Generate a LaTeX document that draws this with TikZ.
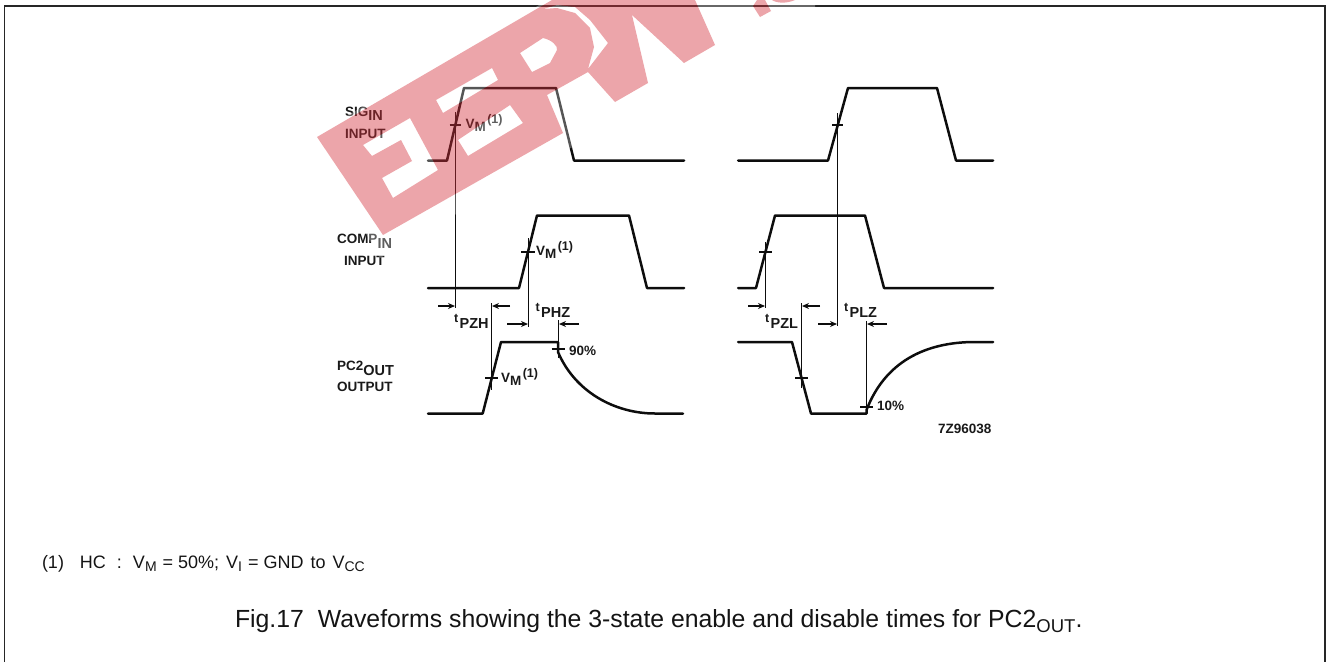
\documentclass[tikz,border=0pt]{standalone}
\usepackage{fontspec}
\setmainfont{Liberation Sans}
\usetikzlibrary{arrows.meta}
\definecolor{wmred}{RGB}{212,48,59}
\newcommand{\wmletters}{
  (317,137) -- (552,0) -- (695,0) -- (715,45) -- (684,63) -- (632,15) -- (648,83) -- (615,102) -- (588,72) -- (547,95) -- (563,133) -- (383,235) -- cycle
  (363,145) -- (410,118) -- (438,170) -- (393,198) -- (382,178) -- (412,161) -- (401,140) -- (372,156) -- cycle
  (436,100) -- (492,68) -- (498,80) -- (443,113) -- cycle
  (458,140) -- (510,105) -- (523,123) -- (468,156) -- cycle
  (520,53) -- (543,38) .. controls (552,40) and (558,46) .. (557,50) -- (550,63) -- (532,72) -- cycle
  (588,69) -- (594,47) -- (590,28) -- (575,13) -- (557,8) -- (543,9) -- (557,5) -- (575,7) -- (590,20) -- (608,43) -- cycle
}
\newcommand{\wmdot}{
  (753,6) -- (760,17) -- (771,11) -- (765,0) -- (757,0) -- cycle
  (772,0) .. controls (776,3) and (786,4) .. (795,0) -- cycle
}
\tikzset{
  x=1pt,y=-1pt,
  wave/.style={line width=2.5pt,line join=round,line cap=round,black!95},
  thin line/.style={line width=1.2pt,black!95},
  tick line/.style={line width=1.4pt,black!95},
  timing/.style={line width=1.3pt,black!95,-{Stealth[length=7pt,width=6pt]}},
  lab/.style={anchor=base west,inner sep=0pt,outer sep=0pt,font=\fontsize{13.5}{15}\selectfont\bfseries,text=black!90},
  foot/.style={anchor=base west,inner sep=0pt,outer sep=0pt,text=black!92},
  frameline/.style={line width=1.5pt,black!85}
}
\newcommand{\vmlab}{V\raisebox{-3.5pt}{M}\hspace{1.5pt}\raisebox{5pt}{\fontsize{12.5}{13}\selectfont (1)}}
\newcommand{\tlab}[1]{{\fontsize{12.5}{13}\selectfont t}\hspace{1.5pt}\raisebox{-6pt}{\fontsize{14.5}{15}\selectfont #1}}
\newcommand{\nsub}[1]{\raisebox{-3.5pt}{\fontsize{14}{15}\selectfont #1}}
\newcommand{\csub}[1]{\raisebox{-5pt}{\fontsize{18.5}{19}\selectfont #1}}
\begin{document}
\begin{tikzpicture}
\useasboundingbox (0,0) rectangle (1326,662);
% frame
\draw[frameline] (4.5,662) -- (4.5,6) -- (1325,6) -- (1325,662);
% left waveforms
\draw[wave] (428,160.5) -- (447,160.5) -- (464,88) -- (556,88) -- (574,160.5) -- (684,160.5);
\draw[wave] (428,288) -- (519,288) -- (537,215.5) -- (629,215.5) -- (647,288) -- (684,288);
\draw[wave] (428,413.5) -- (482.7,413.5) -- (501,342) -- (558,342) -- (558,352) .. controls (575,392) and (615,413.5) .. (655,413.5) -- (683,413.5);
% right waveforms
\draw[wave] (738,160.5) -- (828,160.5) -- (848,88) -- (937,88) -- (956,160.5) -- (993,160.5);
\draw[wave] (738,288) -- (756,288) -- (775,215.5) -- (865,215.5) -- (884,288) -- (993,288);
\draw[wave] (738,342) -- (792,342) -- (811,413.5) -- (866.5,413.5) -- (866.5,410) .. controls (885,362) and (925,342) .. (975,342) -- (993,342);
% vertical reference lines
\draw[thin line] (455.5,112) -- (455.5,308);
\draw[thin line] (528.5,238) -- (528.5,327);
\draw[thin line] (491.5,303) -- (491.5,390);
\draw[thin line] (558.5,320) -- (558.5,358);
\draw[thin line] (837.5,113) -- (837.5,326);
\draw[thin line] (765.5,242) -- (765.5,308);
\draw[thin line] (801.5,303) -- (801.5,388);
\draw[thin line] (866.5,321) -- (866.5,414);
% ticks
\draw[tick line] (449.5,125) -- (461,125);
\draw[tick line] (521,252) -- (535,252);
\draw[tick line] (485,378) -- (498,378);
\draw[tick line] (551.5,349) -- (565,349);
\draw[tick line] (832,125) -- (843,125);
\draw[tick line] (759,252) -- (772,252);
\draw[tick line] (795,378) -- (808,378);
\draw[tick line] (860,407) -- (873,407);
% timing arrows
\draw[timing] (438,306) -- (455,306);
\draw[timing] (510,306) -- (492,306);
\draw[timing] (507,324) -- (528,324);
\draw[timing] (579,324) -- (559,324);
\draw[timing] (748,306) -- (765,306);
\draw[timing] (820,306) -- (802,306);
\draw[timing] (818,324) -- (837,324);
\draw[timing] (887,324) -- (867,324);
% labels
\node[lab] (sig) at (345,116) {SIG\raisebox{-4.7pt}{\fontsize{14.5}{15}\selectfont IN}};
\node[lab] (siginput) at (345,138) {INPUT};
\node[lab] (comp) at (337,243) {COMP\raisebox{-5pt}{\fontsize{14.5}{15}\selectfont IN}};
\node[lab] (compinput) at (344,265) {INPUT};
\node[lab] (pc) at (337,370) {PC2\raisebox{-5pt}{\fontsize{14.5}{15}\selectfont OUT}};
\node[lab] (pcoutput) at (337,391.6) {OUTPUT};
\node[lab] (vma) at (465.5,128) {\vmlab};
\node[lab] (vmb) at (536,255) {\vmlab};
\node[lab] (vmc) at (501,382) {\vmlab};
\node[lab] (ninety) at (569,355) {90\%};
\node[lab] (ten) at (877,410.6) {10\%};
\node[lab] (code) at (938,433) {7Z96038};
\node[lab] (tpzh) at (454,322) {\tlab{PZH}};
\node[lab] (tphz) at (535.5,311) {\tlab{PHZ}};
\node[lab] (tpzl) at (765,322) {\tlab{PZL}};
\node[lab] (tplz) at (844,311) {\tlab{PLZ}};
% footnote and caption
\node[foot,font=\fontsize{18}{20}\selectfont] (note) at (42,568) {(1)\hspace{16pt}HC\hspace{6pt} :\hspace{6pt} V\nsub{M}\hspace{1pt} = 50\%;\hspace{2pt} V\nsub{I}\hspace{1pt} = GND\hspace{2pt} to\hspace{2pt} V\nsub{CC}};
\node[foot,font=\fontsize{24.8}{27}\selectfont] (caption) at (235,627) {Fig.17\hspace{7pt} Waveforms showing the 3-state enable and disable times for PC2\csub{OUT}.};
% watermark: pale halo, then the red letters
\fill[white,fill opacity=0.3,even odd rule] (310,137) -- (548,0) -- (815,0) -- (815,7) -- (380,258) -- cycle \wmletters \wmdot;
\fill[wmred,fill opacity=0.435,even odd rule] \wmletters \wmdot;
\end{tikzpicture}
\end{document}
